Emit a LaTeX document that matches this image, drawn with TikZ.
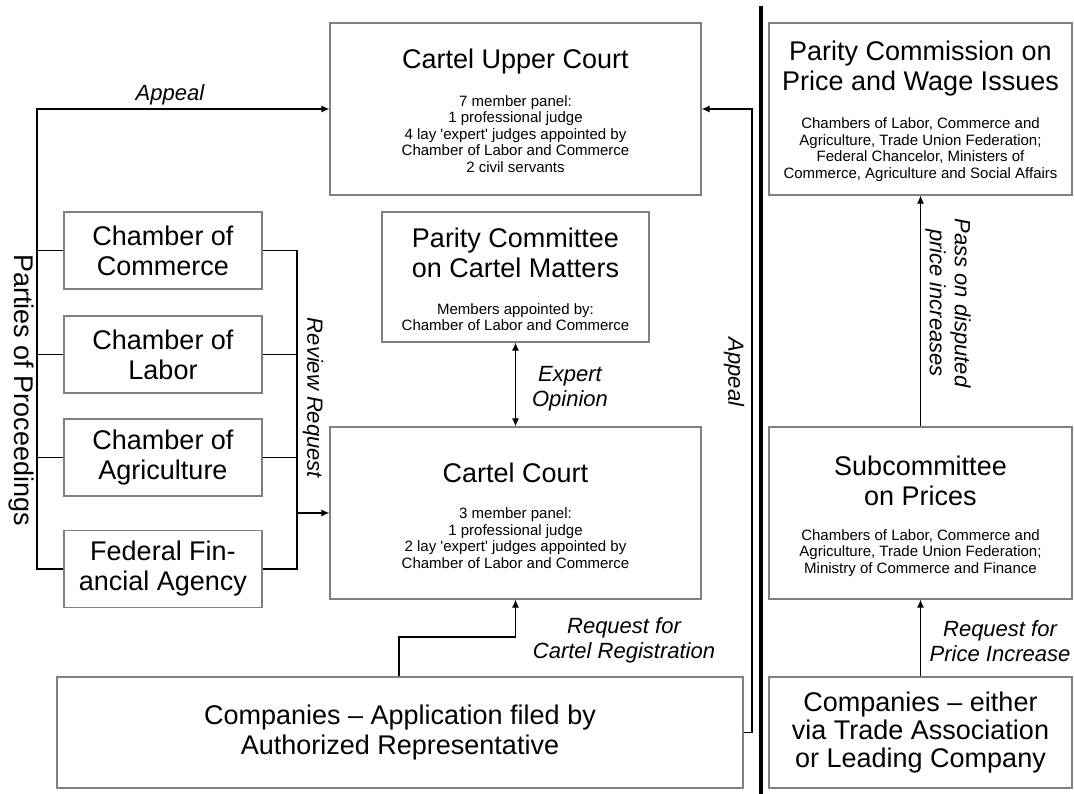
\documentclass[tikz,border=0pt]{standalone}
\usepackage{fontspec}
\setmainfont{Liberation Sans}
\newfontfamily\rawfont{Liberation Sans}
\usetikzlibrary{arrows.meta}
\definecolor{boxgray}{RGB}{128,128,128}
\tikzset{
  box/.style={draw=boxgray, line width=1.3pt, rectangle, inner sep=0pt},
  conn/.style={draw=black, line width=1.1pt},
  arr/.style={conn, -{Latex[length=8pt,width=7pt]}},
  dblarr/.style={conn, {Latex[length=8pt,width=7pt]}-{Latex[length=8pt,width=7pt]}},
  ttl/.style={font=\rawfont\fontsize{27}{30}\selectfont, align=center, inner sep=0pt},
  sml/.style={font=\rawfont\fontsize{15}{16.5}\selectfont, align=center, inner sep=0pt},
  lbl/.style={font=\rawfont\fontsize{22}{25}\selectfont\itshape, align=center, inner sep=0pt},
}
\begin{document}
\begin{tikzpicture}[x=1pt,y=-1pt]
\useasboundingbox (0,0) rectangle (1074,794);

% boxes
\node[box, minimum width=371pt, minimum height=172pt] (upper) at (515.5,109) {};
\node[box, minimum width=267pt, minimum height=130pt] (pc) at (515.5,277) {};
\node[box, minimum width=371pt, minimum height=172pt] (court) at (515.5,513) {};
\node[box, minimum width=198pt, minimum height=77pt] (commerce) at (163,250.5) {};
\node[box, minimum width=198pt, minimum height=77pt] (labor) at (163,354.5) {};
\node[box, minimum width=198pt, minimum height=77pt] (agri) at (163,457.5) {};
\node[box, minimum width=198pt, minimum height=77pt] (fed) at (163,569) {};
\node[box, minimum width=686pt, minimum height=111pt] (comp) at (400,732.5) {};
\node[box, minimum width=303pt, minimum height=172pt] (commission) at (920.5,109) {};
\node[box, minimum width=303pt, minimum height=172pt] (sub) at (920.5,513) {};
\node[box, minimum width=303pt, minimum height=111pt] (comp2) at (920.5,732.5) {};

% texts in boxes
\node[ttl] (upperT) at (515.5,62) {Cartel Upper Court};
\node[sml] (upperS) at (515.5,134) {7 member panel:\\1 professional judge\\4 lay 'expert' judges appointed by\\Chamber of Labor and Commerce\\2 civil servants};
\node[ttl] (pcT) at (515.5,253) {Parity Committee\\on Cartel Matters};
\node[sml] (pcS) at (515.5,317) {Members appointed by:\\Chamber of Labor and Commerce};
\node[ttl] (courtT) at (515.5,473) {Cartel Court};
\node[sml] (courtS) at (515.5,538) {3 member panel:\\1 professional judge\\2 lay 'expert' judges appointed by\\Chamber of Labor and Commerce};
\node[ttl] (commerceT) at (commerce) {Chamber of\\Commerce};
\node[ttl] (laborT) at (labor) {Chamber of\\Labor};
\node[ttl] (agriT) at (agri) {Chamber of\\Agriculture};
\node[ttl] (fedT) at (fed) {Federal Fin-\\ancial Agency};
\node[ttl] (compT) at (400,733) {Companies – Application filed by\\Authorized Representative};
\node[ttl] (commissionT) at (920.5,69) {Parity Commission on\\Price and Wage Issues};
\node[sml] (commissionS) at (920.5,149.5) {Chambers of Labor, Commerce and\\Agriculture, Trade Union Federation;\\Federal Chancelor, Ministers of\\Commerce, Agriculture and Social Affairs};
\node[ttl] (subT) at (920.5,481) {Subcommittee\\on Prices};
\node[sml] (subS) at (920.5,553) {Chambers of Labor, Commerce and\\Agriculture, Trade Union Federation;\\Ministry of Commerce and Finance};
\node[ttl, font=\rawfont\fontsize{27}{28}\selectfont] (comp2T) at (920.5,733) {Companies – either\\via Trade Association\\or Leading Company};

% separator
\coordinate (septop) at (761,6);
\coordinate (sepbot) at (761,794);
\draw[line width=4pt] (septop) -- (sepbot);

% connectors left
\coordinate (L) at (37,0);
\coordinate (R) at (297,0);
\draw[arr] (fed.west) -- (fed.west -| L) |- (upper.west);
\draw[conn] (commerce.west) -- (commerce.west -| L);
\draw[conn] (labor.west) -- (labor.west -| L);
\draw[conn] (agri.west) -- (agri.west -| L);
\draw[conn] (commerce.east) -- (commerce.east -| R) -- (fed.east -| R) -- (fed.east);
\draw[conn] (labor.east) -- (labor.east -| R);
\draw[conn] (agri.east) -- (agri.east -| R);
\draw[arr] (R |- court.west) -- (court.west);
\draw[dblarr] (pc.south) -- (court.north);
\coordinate (cj) at (399,637);
\draw[arr] (comp.north -| cj) -- (cj) -| (court.south);
\coordinate (ra) at (752,0);
\draw[arr] (comp.east) -- (comp.east -| ra) |- (upper.east);

% connectors right
\draw[arr] (sub.north) -- (commission.south);
\draw[arr] (comp2.north) -- (sub.south);

% labels
\node[lbl] (lAppeal) at (170,95) {Appeal};
\node[ttl, rotate=-90] (lParties) at (21,390) {Parties of Proceedings};
\node[lbl, rotate=-90] (lReview) at (313,398) {Review Request};
\node[lbl] (lExpert) at (570,389) {Expert\\Opinion};
\node[lbl, rotate=-90] (lAppeal2) at (734,372) {Appeal};
\node[lbl] (lReqCartel) at (624,640) {Request for\\Cartel Registration};
\node[lbl, rotate=-90] (lPass) at (948,303) {Pass on disputed\\price increases};
\node[lbl] (lReqPrice) at (1000,641) {Request for\\Price Increase};
\end{tikzpicture}
\end{document}
